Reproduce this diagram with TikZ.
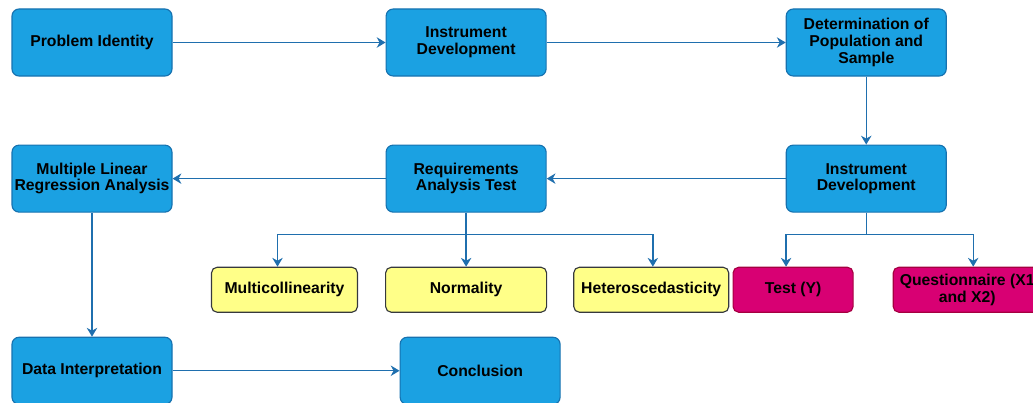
\documentclass[tikz,border=0pt]{standalone}
\usepackage{fontspec}
\setmainfont{Liberation Sans}
\usepackage{xcolor}
\usetikzlibrary{positioning,arrows.meta}

\definecolor{flowblue}{HTML}{1BA1E2}
\definecolor{flowblueline}{HTML}{1672B0}
\definecolor{arrowblue}{HTML}{1F6FAE}
\definecolor{testyellow}{HTML}{FFFF88}
\definecolor{testyellowline}{HTML}{36393D}
\definecolor{datapink}{HTML}{D80073}
\definecolor{datapinkline}{HTML}{A50040}

\begin{document}
\begin{tikzpicture}[
  >={Stealth[length=2.2mm,width=2.6mm,inset=0.7mm]},
  font=\fontsize{11.2}{11.8}\selectfont\bfseries,
  process/.style={
    rectangle,
    draw=flowblueline,
    line width=0.8pt,
    rounded corners=5pt,
    align=center,
    inner xsep=0pt,
    minimum width=4cm,
    minimum height=1.675cm,
    fill=flowblue
  },
  assumption/.style={
    rectangle,
    draw=testyellowline,
    line width=0.8pt,
    rounded corners=4pt,
    align=center,
    minimum height=1.125cm,
    fill=testyellow
  },
  instrument/.style={
    rectangle,
    draw=datapinkline,
    line width=0.8pt,
    rounded corners=4pt,
    align=center,
    minimum height=1.125cm,
    fill=datapink
  },
  arr/.style={->,line width=1pt,draw=arrowblue}
]

\useasboundingbox (0,0) rectangle (25.825,-10.075);

% first row
\node[process] (problem) at (2.3,-1.0625) {Problem Identity};
\node[process, right=5.325cm of problem] (instrument1) {Instrument\\Development};
\node[process, right=5.975cm of instrument1] (population) {Determination of\\Population and\\Sample};

% second row
\node[process, below=1.7cm of population] (instrument2) {Instrument\\Development};
\node[process, left=5.975cm of instrument2] (requirements) {Requirements\\Analysis Test};
\node[process, left=5.325cm of requirements] (regression) {Multiple Linear\\Regression Analysis};

% tests and instruments
\node[assumption, minimum width=4.025cm, below=1.35cm of requirements] (normality) {Normality};
\node[assumption, minimum width=3.65cm, left=0.675cm of normality] (multicol) {Multicollinearity};
\node[assumption, minimum width=3.875cm, right=0.65cm of normality] (hetero) {Heteroscedasticity};
\node[instrument, minimum width=3cm, right=0.08cm of hetero] (testy) {Test (Y)};
\node[instrument, minimum width=3.7cm, right=0.975cm of testy] (questionnaire) {Questionnaire (X1\\and X2)};

% last row
\node[process, below=3.1cm of regression] (interpretation) {Data Interpretation};
\node[process, right=5.675cm of interpretation] (conclusion) {Conclusion};

\coordinate[below=0.55cm of requirements] (reqsplit);
\coordinate[below=0.55cm of instrument2] (instsplit);

\draw[arr] (problem) -- (instrument1);
\draw[arr] (instrument1) -- (population);
\draw[arr] (population) -- (instrument2);
\draw[arr] (instrument2) -- (requirements);
\draw[arr] (requirements) -- (regression);
\draw[arr] (regression) -- (interpretation);
\draw[arr] (interpretation) -- (conclusion);

\draw[arr] (requirements) -- (normality);
\draw[arr] (reqsplit) -| ([xshift=-1.75mm]multicol.north);
\draw[arr] (reqsplit) -| ([xshift=0.4mm]hetero.north);

\draw[line width=1pt, draw=arrowblue] (instrument2) -- (instsplit);
\draw[arr] (instsplit) -| ([xshift=-1.75mm]testy.north);
\draw[arr] (instsplit) -| ([xshift=1.5mm]questionnaire.north);

\end{tikzpicture}
\end{document}
